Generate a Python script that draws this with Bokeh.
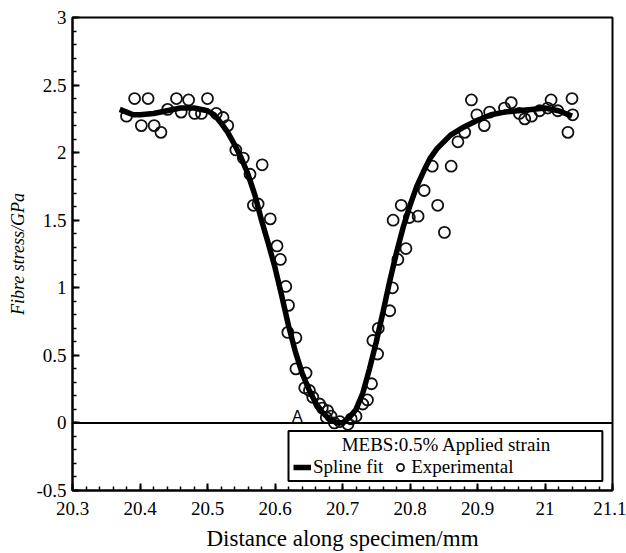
from bokeh.plotting import figure
from bokeh.models import FixedTicker, Span, Label, BoxAnnotation, Legend, LegendItem
from bokeh.embed import file_html
from bokeh.resources import INLINE

# ---- data ----
spline_x = [20.37, 20.38, 20.39, 20.40, 20.42, 20.44, 20.46, 20.48, 20.50, 20.51,
            20.52, 20.53, 20.54, 20.55, 20.56, 20.57, 20.58, 20.59, 20.60, 20.61,
            20.62, 20.63, 20.64, 20.65, 20.66, 20.67, 20.68, 20.69, 20.70, 20.71,
            20.72, 20.73, 20.74, 20.75, 20.76, 20.77, 20.78, 20.79, 20.80, 20.81,
            20.82, 20.83, 20.84, 20.86, 20.88, 20.90, 20.92, 20.94, 20.96, 20.98,
            21.00, 21.02, 21.04]
spline_y = [2.32, 2.30, 2.28, 2.28, 2.29, 2.31, 2.33, 2.33, 2.31, 2.28,
            2.22, 2.15, 2.06, 1.96, 1.84, 1.69, 1.50, 1.33, 1.15, 0.94,
            0.72, 0.53, 0.37, 0.25, 0.15, 0.08, 0.03, 0.005, 0.00, 0.04,
            0.10, 0.22, 0.40, 0.60, 0.82, 1.05, 1.26, 1.45, 1.61, 1.75,
            1.86, 1.96, 2.03, 2.13, 2.19, 2.24, 2.28, 2.30, 2.31, 2.32,
            2.33, 2.31, 2.27]

exp_x = [20.380, 20.392, 20.412, 20.402, 20.421, 20.431, 20.441, 20.454, 20.461, 20.472,
         20.481, 20.491, 20.500, 20.513, 20.523, 20.530,
         20.542, 20.553, 20.581, 20.563, 20.575, 20.568, 20.593, 20.603, 20.608, 20.616,
         20.620, 20.619, 20.631, 20.631, 20.646, 20.644, 20.651, 20.656, 20.666, 20.670,
         20.678, 20.683, 20.676, 20.688, 20.696, 20.708, 20.713, 20.720,
         20.730, 20.737, 20.743, 20.745, 20.752, 20.753, 20.770, 20.774, 20.782, 20.794,
         20.775, 20.799, 20.812, 20.787, 20.841, 20.851, 20.821, 20.833, 20.861, 20.871,
         20.881, 20.891, 20.899, 20.910, 20.918, 20.940, 20.950, 20.962, 20.970, 20.980,
         20.992, 21.004, 21.009, 21.019, 21.034, 21.040, 21.041]
exp_y = [2.27, 2.40, 2.40, 2.20, 2.20, 2.15, 2.32, 2.40, 2.30, 2.39,
         2.29, 2.29, 2.40, 2.29, 2.26, 2.20,
         2.02, 1.96, 1.91, 1.84, 1.62, 1.61, 1.51, 1.31, 1.21, 1.01,
         0.87, 0.67, 0.63, 0.40, 0.37, 0.26, 0.24, 0.19, 0.14, 0.11,
         0.09, 0.05, 0.04, 0.00, 0.01, -0.01, 0.03, 0.05,
         0.14, 0.17, 0.29, 0.61, 0.51, 0.70, 0.83, 1.00, 1.21, 1.29,
         1.50, 1.52, 1.53, 1.61, 1.61, 1.41, 1.72, 1.90, 1.90, 2.08,
         2.15, 2.39, 2.28, 2.20, 2.30, 2.33, 2.37, 2.29, 2.25, 2.27,
         2.31, 2.33, 2.39, 2.31, 2.15, 2.40, 2.28]

x_ticks = [20.3, 20.4, 20.5, 20.6, 20.7, 20.8, 20.9, 21.0, 21.1]
x_tick_labels = ["20.3", "20.4", "20.5", "20.6", "20.7", "20.8", "20.9", "21", "21.1"]
y_ticks = [-0.5, 0.0, 0.5, 1.0, 1.5, 2.0, 2.5, 3.0]
y_tick_labels = ["-0.5", "0", "0.5", "1", "1.5", "2", "2.5", "3"]

legend_title = "MEBS:0.5% Applied strain"
series_names = ["Spline fit", "Experimental"]

FONT = "Liberation Serif"

p = figure(width=626, height=553, x_range=(20.3, 21.1), y_range=(-0.5, 3.0),
           output_backend="svg", toolbar_location=None,
           min_border_left=72, min_border_right=14, min_border_top=17, min_border_bottom=63)
p.xgrid.visible = False
p.ygrid.visible = False
p.outline_line_color = "black"
p.outline_line_width = 2
p.background_fill_color = "white"

x_minor = [round(20.3 + 0.02 * i, 2) for i in range(41)]
y_minor = [round(-0.5 + 0.1 * i, 1) for i in range(36)]
p.xaxis.ticker = FixedTicker(ticks=x_ticks, minor_ticks=x_minor)
p.yaxis.ticker = FixedTicker(ticks=y_ticks, minor_ticks=y_minor)
p.xaxis.major_label_overrides = dict(zip(x_ticks, x_tick_labels))
p.yaxis.major_label_overrides = dict(zip(y_ticks, y_tick_labels))

for ax in (p.xaxis, p.yaxis):
    ax.axis_line_width = 2
    ax.axis_line_color = "black"
    ax.major_tick_in = 7
    ax.major_tick_out = 0
    ax.minor_tick_in = 4
    ax.minor_tick_out = 0
    ax.major_tick_line_width = 2
    ax.minor_tick_line_width = 1.5
    ax.major_label_text_font = FONT
    ax.major_label_text_font_size = "19px"
    ax.major_label_text_color = "black"
    ax.axis_label_text_font = FONT
    ax.axis_label_text_color = "black"

p.xaxis.axis_label = "Distance along specimen/mm"
p.xaxis.axis_label_text_font_size = "23px"
p.xaxis.axis_label_text_font_style = "normal"
p.xaxis.major_label_standoff = 11
p.xaxis.axis_label_standoff = 8

p.yaxis.axis_label = "Fibre stress/GPa"
p.yaxis.axis_label_text_font_size = "18px"
p.yaxis.axis_label_text_font_style = "italic"
p.yaxis.major_label_standoff = 6
p.yaxis.axis_label_standoff = 5

p.add_layout(Span(location=0, dimension="width", line_color="black", line_width=2))

sc = p.scatter(exp_x, exp_y, marker="circle", size=11, fill_color=None,
               line_color="#111111", line_width=1.8)
ln = p.line(spline_x, spline_y, line_width=5.5, line_color="black")

p.add_layout(Label(x=20.633, y=0.044, text="A", text_align="center",
                   text_baseline="alphabetic", text_font="Liberation Sans",
                   text_font_size="16px", text_color="black"))

p.add_layout(BoxAnnotation(left=20.62, right=21.085, bottom=-0.43, top=-0.059,
                           fill_alpha=0, line_color="black", line_width=2, line_alpha=1))
p.add_layout(Label(x=20.854, y=-0.156, text=legend_title, text_align="center",
                   text_baseline="middle", text_font=FONT, text_font_size="19px",
                   text_color="black"))

legend = Legend(items=[LegendItem(label=series_names[0], renderers=[ln]),
                       LegendItem(label=series_names[1], renderers=[sc])],
                location=(221, 12), orientation="horizontal",
                border_line_alpha=0, background_fill_alpha=0,
                padding=0, margin=0, spacing=8, label_standoff=2,
                glyph_width=18, glyph_height=18, label_height=18,
                label_text_font=FONT, label_text_font_size="19px",
                label_text_color="black")
p.add_layout(legend)

open("out.html", "w").write(file_html(p, INLINE))
